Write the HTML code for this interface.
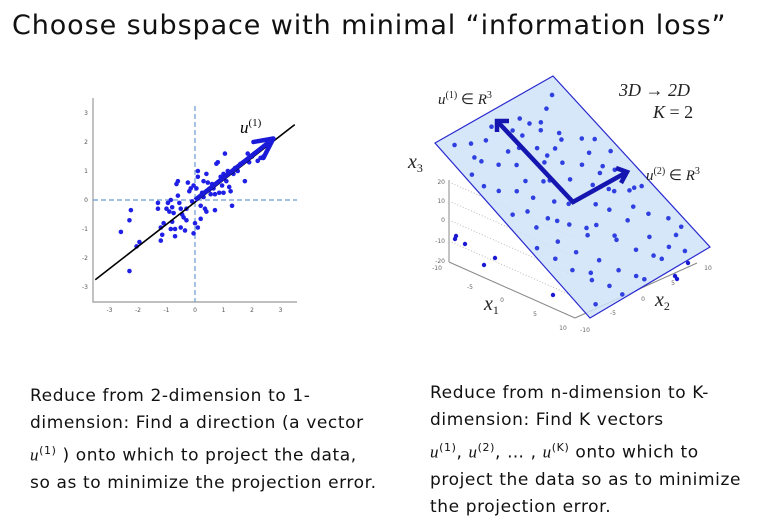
<!DOCTYPE html>
<html><head><meta charset="utf-8"><style>
body{margin:0;background:#fff;width:758px;height:526px;overflow:hidden;position:relative;font-family:"DejaVu Sans","Liberation Sans",sans-serif}
.t{position:absolute;white-space:nowrap;color:#111}
.para{position:absolute;font-size:17px;line-height:27px;color:#111;letter-spacing:0.6px;white-space:nowrap}
</style></head><body>
<div class="t" style="left:12px;top:10px;font-size:27px;letter-spacing:0.9px">Choose subspace with minimal “information loss”</div>
<svg width="758" height="526" style="position:absolute;left:0;top:0">
<g id="left"></g>
<g id="right"></g>
</svg>
<div class="para" style="left:30px;top:383px;width:360px">Reduce from 2-dimension to 1-<br>dimension: Find a direction (a vector<br><i style="font-family:'Liberation Serif',serif">u</i><sup style="font-size:11px">(1)</sup> ) onto which to project the data,<br>so as to minimize the projection error.</div>
<div class="para" style="left:430px;top:380px;width:330px">Reduce from n-dimension to K-<br>dimension: Find K vectors<br><i style="font-family:'Liberation Serif',serif">u</i><sup style="font-size:11px">(1)</sup>, <i style="font-family:'Liberation Serif',serif">u</i><sup style="font-size:11px">(2)</sup>, … , <i style="font-family:'Liberation Serif',serif">u</i><sup style="font-size:11px">(K)</sup> onto which to<br>project the data so as to minimize<br>the projection error.</div>
<script>
const ticks=[-3,-2,-1,0,1,2,3];
const px=[-2.6,-2.25,-2.3,-2.3,-2.05,-1.95,-1.3,-1.3,-1.2,-1.2,-1.15,-1.0,-0.95,-0.9,-0.85,-0.85,-0.8,-0.8,-0.75,-0.7,-0.7,-0.65,-0.6,-0.6,-0.55,-0.5,-0.5,-0.45,-0.4,-0.35,-0.3,-0.3,-0.25,-0.2,-0.15,-0.1,-0.05,-0.05,0,0.05,0.1,0.1,0.1,0.2,0.2,0.25,0.3,0.35,0.4,0.4,0.45,0.5,0.55,0.6,0.65,0.7,0.7,0.75,0.8,0.8,0.85,0.9,0.95,1.0,1.0,1.05,1.1,1.15,1.2,1.25,1.3,1.35,1.4,1.5,1.6,1.7,1.75,1.85,1.9,2.0,2.2,2.3,2.4,0.3,-1.1];
const py=[-1.1,-0.35,-0.7,-2.45,-1.6,-1.45,-0.1,-0.3,-0.95,-1.4,-1.2,-0.3,-0.1,-0.4,0,-1.0,-0.25,-0.75,-0.45,-1.25,-1.0,0.55,0.65,0.15,-0.1,-0.3,-0.95,-0.5,-0.6,-1.05,-0.3,-0.7,0.6,0.3,0.4,-0.05,0.5,-1.15,-0.8,0.4,0.8,1.0,-0.95,-0.2,-0.65,0.25,0.1,-0.3,0.9,-0.4,0.6,0.35,0.2,0.55,0.4,-0.35,0.2,1.25,1.3,0.6,0.25,0.8,0.5,0.9,0.25,1.6,0.65,1.0,0.45,0.3,-0.2,0.9,1.1,1.0,1.25,1.3,0.65,1.6,1.3,1.5,1.35,1.45,1.5,0.65,-0.8];
const NS="http://www.w3.org/2000/svg";
function mk(p,tag,a){const e=document.createElementNS(NS,tag);for(const k in a)e.setAttribute(k,a[k]);p.appendChild(e);return e;}
const L=document.getElementById('left');
const X=v=>195+v*28.5, Y=v=>200-v*29;
let e;
e=mk(L,'path',{d:'M93,98 V302 H297',fill:'none',stroke:'#999','stroke-width':1.2});


ticks.forEach(t=>{
 e=mk(L,'text',{x:X(t),y:312,'font-size':6,'text-anchor':'middle',fill:'#555'});e.textContent=t;
 
 
 e=mk(L,'text',{x:88,y:Y(t)+2,'font-size':6,'text-anchor':'end',fill:'#555'});e.textContent=t;
 
 
});
mk(L,'line',{x1:93,y1:Y(0),x2:297,y2:Y(0),stroke:'#6b9bd1','stroke-dasharray':'5,3','stroke-width':1.2});
mk(L,'line',{x1:X(0),y1:106,x2:X(0),y2:302,stroke:'#6b9bd1','stroke-dasharray':'5,3','stroke-width':1.2});
px.forEach((v,i)=>{e=mk(L,'circle',{cx:X(v),cy:Y(py[i]),r:2.3,fill:'#1f1fe6'});
 
 });
e=mk(L,'line',{x1:X(-3.5),y1:Y(-2.75),x2:X(3.5),y2:Y(2.6),stroke:'#000','stroke-width':1.6});


e=mk(L,'line',{x1:X(0),y1:Y(0),x2:X(2.6),y2:Y(2.0),stroke:'#1a1ad8','stroke-width':4.5});


mk(L,'path',{d:`M${X(2.75)},${Y(2.12)} L${X(2.05)},${Y(2.0)} M${X(2.75)},${Y(2.12)} L${X(2.4)},${Y(1.45)}`,stroke:'#1a1ad8','stroke-width':4.5,fill:'none','stroke-linecap':'round'});
e=mk(L,'text',{x:240,y:133,'font-size':17,'font-style':'italic','font-family':'Liberation Serif,serif'});e.innerHTML='u<tspan dy="-7" font-size="11" font-style="normal">(1)</tspan>';



const R=document.getElementById('right');
const A=[435,143],B=[553,76],C=[710,247],D=[590,318];
const ps=[0.1,0.2,0.15,0.3,0.05,0.4,0.5,0.6,0.7,0.8,0.9,0.25,0.35,0.45,0.55,0.65,0.75,0.85,0.12,0.22,0.32,0.42,0.52,0.62,0.72,0.82,0.92,0.08,0.18,0.28,0.38,0.48,0.58,0.68,0.78,0.88,0.95,0.15,0.3,0.45,0.6,0.75,0.9,0.05,0.2,0.35,0.5,0.65,0.8,0.95,0.1,0.25,0.4,0.55,0.7,0.85,0.14,0.34,0.54,0.74,0.94,0.2,0.4,0.6,0.8,0.27,0.47,0.67,0.87,0.1,0.3,0.5,0.7,0.9,0.17,0.37,0.57,0.77,0.97,0.06,0.26,0.46,0.66,0.86,0.43,0.63,0.83,0.23,0.53,0.73];
const pt=[0.05,0.08,0.14,0.1,0.2,0.06,0.12,0.09,0.15,0.11,0.07,0.22,0.26,0.2,0.24,0.28,0.23,0.3,0.32,0.36,0.34,0.38,0.31,0.35,0.4,0.37,0.33,0.44,0.46,0.42,0.48,0.45,0.43,0.5,0.47,0.49,0.41,0.54,0.56,0.52,0.58,0.55,0.6,0.62,0.64,0.6,0.66,0.63,0.67,0.61,0.7,0.72,0.68,0.74,0.71,0.73,0.78,0.8,0.76,0.82,0.79,0.86,0.88,0.84,0.9,0.92,0.94,0.9,0.95,0.96,0.98,0.97,0.93,0.87,0.17,0.19,0.29,0.57,0.85,0.27,0.53,0.39,0.18,0.6,0.65,0.13,0.45,0.83,0.16,0.26];
const P=(s,t)=>[A[0]+s*(B[0]-A[0])+t*(D[0]-A[0]),A[1]+s*(B[1]-A[1])+t*(D[1]-A[1])];
const g='#bbb';
[[449,180,449,262],[449,262,575,318],[575,318,697,263]].forEach(l=>mk(R,'line',{x1:l[0],y1:l[1],x2:l[2],y2:l[3],stroke:'#888','stroke-width':1}));
[182,201,220,241].forEach(y=>mk(R,'line',{x1:449,y1:y,x2:575,y2:y+56,stroke:g,'stroke-dasharray':'1,2'}));
[[182,'20'],[201,'10'],[220,'0'],[241,'-10'],[261,'-20']].forEach(a=>{e=mk(R,'text',{x:445,y:a[0]+2,'font-size':6,'text-anchor':'end',fill:'#666'});e.textContent=a[1];
 
 });
[[437,270,'-10'],[470,289,'-5'],[502,302,'0'],[535,316,'5'],[563,330,'10'],[585,332,'-10'],[613,315,'-5'],[643,301,'0'],[673,285,'5'],[708,270,'10']].forEach(a=>{e=mk(R,'text',{x:a[0],y:a[1],'font-size':6,'text-anchor':'middle',fill:'#666'});e.textContent=a[2];
 
 });
const oxs=[456,455,465,495,484,553,688,675,677];
const oys=[236,239,244,258,265,295,263,276,279];
oxs.forEach((x,i)=>mk(R,'circle',{cx:x,cy:oys[i],r:2.2,fill:'#1a1ad0'}));
e=mk(R,'polygon',{points:[A,B,C,D].map(p=>p.join(',')).join(' '),fill:'#cfe3f8','fill-opacity':0.85,stroke:'#2a2ad0','stroke-width':1.2});


ps.forEach((s,i)=>{const q=P(s,pt[i]);e=mk(R,'circle',{cx:q[0],cy:q[1],r:2.3,fill:'#3040e0'});
 
 });
mk(R,'path',{d:'M497,121 L573,202 L627,172',fill:'none',stroke:'#1515b0','stroke-width':4.5,'stroke-linejoin':'miter'});
mk(R,'path',{d:'M497,132 L497,121 L509,121 M616,168 L627,172 L621,183',fill:'none',stroke:'#1515b0','stroke-width':4.5});
const lab=(x,y,html,sz,nm)=>{e=mk(R,'text',{x:x,y:y,'font-size':sz,'font-family':'Liberation Serif,serif','font-style':'italic',fill:'#222'});e.innerHTML=html;
 
 };
lab(438,104,'u<tspan dy="-6" font-size="10" font-style="normal">(1)</tspan><tspan dy="6" font-style="normal"> ∈ </tspan>R<tspan dy="-6" font-size="10" font-style="normal">3</tspan>',15,'u1-label-3d');
lab(646,180,'u<tspan dy="-6" font-size="10" font-style="normal">(2)</tspan><tspan dy="6" font-style="normal"> ∈ </tspan>R<tspan dy="-6" font-size="10" font-style="normal">3</tspan>',15,'u2-label-3d');
lab(619,96,'3D <tspan font-style="normal">→</tspan> 2D',18,'dimension-label');
lab(653,118,'K <tspan font-style="normal">= 2</tspan>',18,'k-label');
lab(408,168,'x<tspan dy="4" font-size="12" font-style="normal">3</tspan>',20,'x3-label');
lab(484,310,'x<tspan dy="4" font-size="12" font-style="normal">1</tspan>',20,'x1-label');
lab(655,306,'x<tspan dy="4" font-size="12" font-style="normal">2</tspan>',20,'x2-label');
</script>
</body></html>
